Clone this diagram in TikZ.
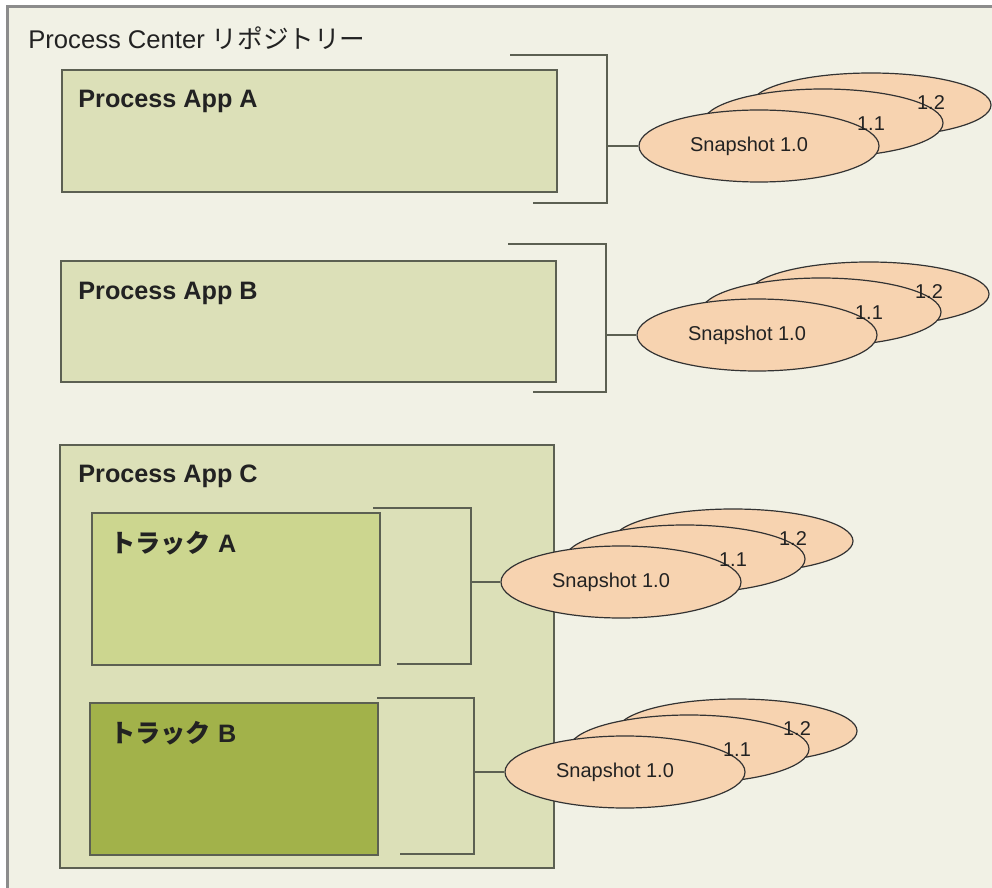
\documentclass[tikz,border=0pt]{standalone}
\usepackage{fontspec}
\setmainfont{Liberation Sans}
\newfontfamily\jp{Noto Sans CJK JP}
\usetikzlibrary{positioning, shapes.geometric, fit}
\definecolor{paper}{HTML}{F1F1E5}
\definecolor{framegray}{HTML}{8C8C8C}
\definecolor{appgreen}{HTML}{DCE0B8}
\definecolor{trackgreen}{HTML}{CCD68F}
\definecolor{trackolive}{HTML}{A2B24A}
\definecolor{boxline}{HTML}{5C6052}
\definecolor{peach}{HTML}{F7D3B0}
\definecolor{inkgray}{HTML}{222222}

\tikzset{
  box/.style={draw=boxline, line width=1pt, inner sep=0pt},
  appbox/.style={box, fill=appgreen},
  boxtitle/.style={anchor=west, inner sep=0pt, text=inkgray,
    font=\bfseries\fontsize{12.6}{14}\selectfont},
  bracket/.style={draw=boxline, line width=0.8pt},
  snap/.style={ellipse, draw=black!80, line width=0.6pt, fill=peach,
    minimum width=120pt, minimum height=36pt, inner sep=0pt},
  snaplabel/.style={inner sep=0pt, text=inkgray, font=\fontsize{10}{12}\selectfont},
}

\begin{document}
\begin{tikzpicture}[x=0.5pt, y=-0.5pt]
  \useasboundingbox (0,0) rectangle (992,888);
  \fill[white] (0,0) rectangle (992,888);

  % --- Repository frame ---
  \fill[paper] (7,7) rectangle (992,888);
  \draw[framegray, line width=1.5pt] (7,888) -- (7,7) -- (992,7);
  \node[anchor=west, inner sep=0pt, text=inkgray, font=\fontsize{12.8}{14}\selectfont]
    (repo) at (28,38) {Process Center {\jp リポジトリー}};

  % --- Process apps ---
  \node[appbox, fit={(62,70) (557,192)}] (appA) {};
  \node[boxtitle] (appAtitle) at (78,101) {Process App A};
  \node[appbox, fit={(61,261) (556,382)}] (appB) {};
  \node[boxtitle] (appBtitle) at (78,293) {Process App B};
  \node[appbox, fit={(60,445) (554,868)}] (appC) {};
  \node[boxtitle] (appCtitle) at (78,476) {Process App C};

  % Tracks inside app C
  \node[box, fill=trackgreen, fit={(92,513) (380,665)}] (trkA) {};
  \node[boxtitle] (trkAtitle) at (110,543) {{\jp トラック} A};
  \node[box, fill=trackolive, fit={(90,703) (378,855)}] (trkB) {};
  \node[boxtitle] (trkBtitle) at (110,733) {{\jp トラック} B};

  % --- Brackets ---
  \draw[bracket] (510,55) -| (607,203) -- (533,203);
  \coordinate (brkA) at (607,146);
  \draw[bracket] (508,244) -| (606,392) -- (533,392);
  \coordinate (brkB) at (606,335);
  \draw[bracket] (373,508) -| (471,664) -- (397,664);
  \coordinate (brkC) at (471,582);
  \draw[bracket] (377,698) -| (474,854) -- (400,854);
  \coordinate (brkD) at (474,772);

  % --- Snapshot stacks ---
  \foreach \n/\x/\y in {A/759/146, B/757/335, C/621/582, D/625/772} {
    \node[snap, minimum height=32pt] (snap\n2) at (\x+112,\y-41) {};
    \node[snap, minimum height=34pt] (snap\n1) at (\x+64,\y-23) {};
    \node[snap] (snap\n0) at (\x,\y) {};
    \node[snaplabel] at ([shift={(60,-2)}]snap\n2.center) {1.2};
    \node[snaplabel] at ([shift={(48,1)}]snap\n1.center) {1.1};
    \node[snaplabel] at ([shift={(-10,0)}]snap\n0.center) {Snapshot 1.0};
    \draw[bracket] (brk\n) -- (snap\n0.west);
  }
\end{tikzpicture}
\end{document}
